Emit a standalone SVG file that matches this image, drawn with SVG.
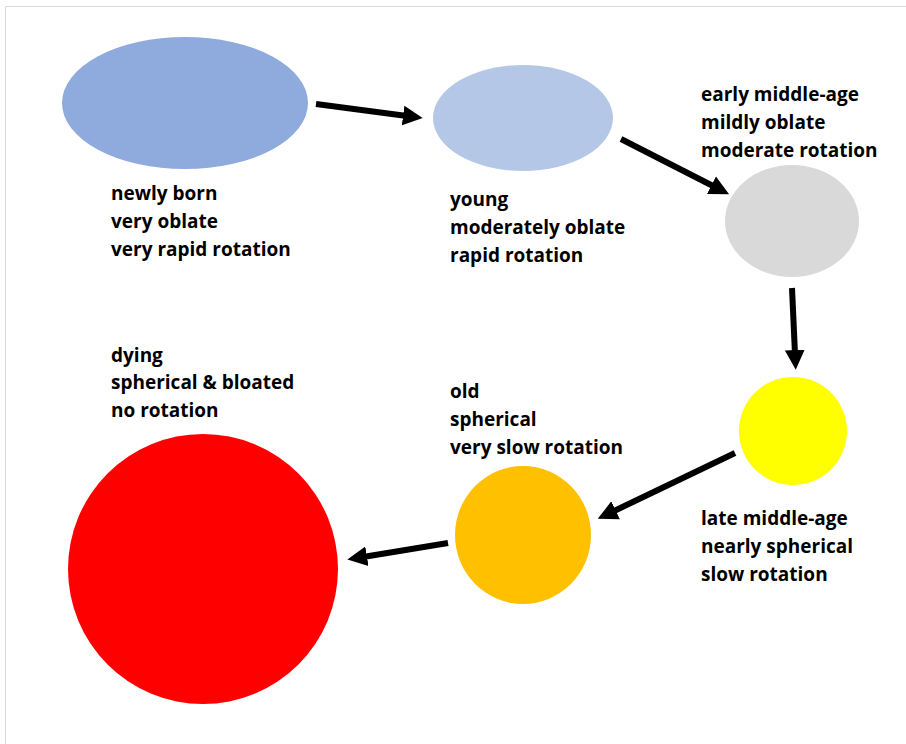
<svg xmlns="http://www.w3.org/2000/svg" width="906" height="744" viewBox="0 0 906 744">
<defs>
<style>
.lbl{font-family:"Open Sans","Liberation Sans",sans-serif;font-weight:bold;font-size:19px;fill:#000}
.arr{stroke:#000;stroke-width:6;fill:none}
</style>
<marker id="ah" viewBox="0 0 10 10" refX="2" refY="5" markerWidth="3.3" markerHeight="3.8" orient="auto" markerUnits="strokeWidth">
<path d="M0,0 L10,5 L0,10 z" fill="#000"/>
</marker>
</defs>
<rect x="0" y="0" width="906" height="744" fill="#fff"/>
<path d="M5.5,744 V6.5 H906" stroke="#d9d9d9" stroke-width="1" fill="none"/>
<g id="newly-born">
<ellipse cx="185" cy="103" rx="123" ry="66" fill="#8FAADC"/>
<text class="lbl"><tspan x="111" y="200">newly born</tspan><tspan x="111" y="228">very oblate</tspan><tspan x="111" y="256">very rapid rotation</tspan></text>
</g>
<g id="young">
<ellipse cx="523" cy="118" rx="90" ry="53" fill="#B4C7E7"/>
<text class="lbl"><tspan x="450" y="206">young</tspan><tspan x="450" y="234">moderately oblate</tspan><tspan x="450" y="262">rapid rotation</tspan></text>
</g>
<g id="early-middle-age">
<ellipse cx="792" cy="221" rx="67" ry="56" fill="#D9D9D9"/>
<text class="lbl"><tspan x="701" y="101">early middle-age</tspan><tspan x="701" y="129">mildly oblate</tspan><tspan x="701" y="157">moderate rotation</tspan></text>
</g>
<g id="late-middle-age">
<circle cx="793" cy="431" r="54" fill="#FFFF00"/>
<text class="lbl"><tspan x="701" y="525">late middle-age</tspan><tspan x="701" y="553">nearly spherical</tspan><tspan x="701" y="581">slow rotation</tspan></text>
</g>
<g id="old">
<ellipse cx="523" cy="535" rx="68" ry="69" fill="#FFC000"/>
<text class="lbl"><tspan x="450" y="398">old</tspan><tspan x="450" y="426">spherical</tspan><tspan x="450" y="454">very slow rotation</tspan></text>
</g>
<g id="dying">
<circle cx="203" cy="569" r="135" fill="#FF0000"/>
<text class="lbl"><tspan x="111" y="362">dying</tspan><tspan x="111" y="389">spherical &amp; bloated</tspan><tspan x="111" y="417">no rotation</tspan></text>
</g>
<g id="connectors">
<line class="arr" x1="316" y1="104" x2="407" y2="116" marker-end="url(#ah)"/>
<line class="arr" x1="621" y1="139" x2="715" y2="187" marker-end="url(#ah)"/>
<line class="arr" x1="792" y1="288" x2="795" y2="354" marker-end="url(#ah)"/>
<line class="arr" x1="735" y1="453" x2="612" y2="512" marker-end="url(#ah)"/>
<line class="arr" x1="448" y1="543" x2="363" y2="557" marker-end="url(#ah)"/>
</g>
</svg>
